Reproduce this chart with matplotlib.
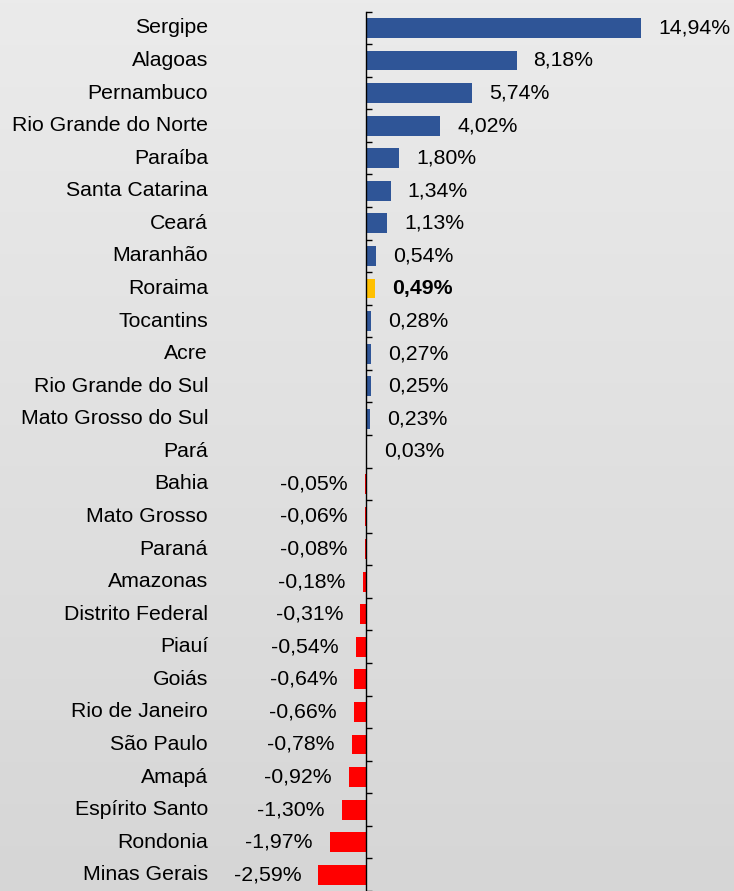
import matplotlib
matplotlib.use("Agg")
import matplotlib.pyplot as plt
import numpy as np

states = ["Sergipe", "Alagoas", "Pernambuco", "Rio Grande do Norte", "Paraíba",
          "Santa Catarina", "Ceará", "Maranhão", "Roraima", "Tocantins", "Acre",
          "Rio Grande do Sul", "Mato Grosso do Sul", "Pará", "Bahia", "Mato Grosso",
          "Paraná", "Amazonas", "Distrito Federal", "Piauí", "Goiás", "Rio de Janeiro",
          "São Paulo", "Amapá", "Espírito Santo", "Rondonia", "Minas Gerais"]
values = [14.94, 8.18, 5.74, 4.02, 1.80, 1.34, 1.13, 0.54, 0.49, 0.28, 0.27,
          0.25, 0.23, 0.03, -0.05, -0.06, -0.08, -0.18, -0.31, -0.54, -0.64,
          -0.66, -0.78, -0.92, -1.30, -1.97, -2.59]
highlight = "Roraima"

BLUE = "#2F5597"
RED = "#FF0000"
GOLD = "#FFC000"

plt.rcParams['font.family'] = ['Liberation Sans', 'DejaVu Sans']
FS = 15.3

W, H = 734, 891
fig = plt.figure(figsize=(W / 100, H / 100), dpi=100)

# background gradient
bg = fig.add_axes([0, 0, 1, 1], zorder=0)
grad = np.linspace(0, 1, 256).reshape(-1, 1)
from matplotlib.colors import LinearSegmentedColormap
cmap = LinearSegmentedColormap.from_list("bg", ["#EBEBEB", "#D6D6D6"])
bg.imshow(grad, aspect="auto", cmap=cmap, extent=[0, 1, 0, 1], origin="upper")
bg.axis("off")

ax = fig.add_axes([0, 0, 1, 1], zorder=1)
ax.patch.set_alpha(0)

px_per = 18.4
x0 = 366
ax.set_xlim(-x0 / px_per, (W - x0) / px_per)
row = 32.7
y_first = 28
ax.set_ylim((H - y_first) / row, -y_first / row)

n = len(states)
ys = np.arange(n)
colors = []
for s, v in zip(states, values):
    if s == highlight:
        colors.append(GOLD)
    elif v >= 0:
        colors.append(BLUE)
    else:
        colors.append(RED)
ax.barh(ys, values, height=0.61, color=colors, zorder=2)

for y, s, v in zip(ys, states, values):
    txt = f"{v:.2f}".replace(".", ",") + "%"
    bold = s == highlight
    if v >= 0:
        ax.annotate(txt, (v, y), xytext=(12.3, 0), textcoords="offset points",
                    ha="left", va="center", fontsize=FS,
                    fontweight="bold" if bold else "normal", color="black")
    else:
        ax.annotate(txt, (v, y), xytext=(-12.3, 0), textcoords="offset points",
                    ha="right", va="center", fontsize=FS, color="black")
    ax.text((208 - x0) / px_per, y, s, ha="right", va="center", fontsize=FS,
            color="black")

for sp in ["top", "right", "bottom"]:
    ax.spines[sp].set_visible(False)
ax.spines["left"].set_position(("data", 0))
ax.spines["left"].set_bounds(-0.5, n - 0.5)
ax.spines["left"].set_linewidth(1.0)
ax.spines["left"].set_color("black")
ax.set_yticks(np.arange(-0.5, n, 1.0))
ax.tick_params(axis="y", direction="in", length=4, width=1.0, labelleft=False,
               color="black")
ax.set_xticks([])

fig.savefig("out.png", dpi=100)
